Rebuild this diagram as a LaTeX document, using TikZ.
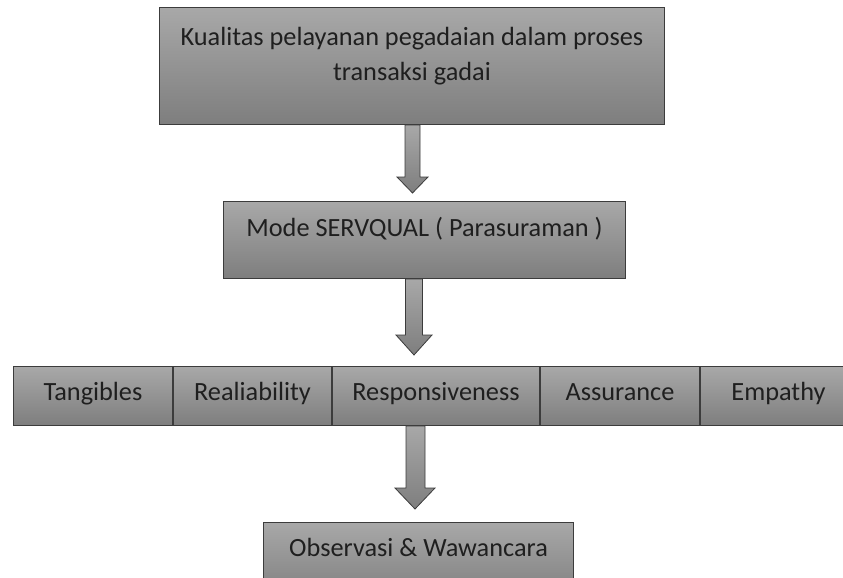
\documentclass[tikz,border=0pt]{standalone}
\usepackage{fontspec}
\setmainfont{Carlito}
\usetikzlibrary{positioning,calc}
\definecolor{abuatas}{RGB}{168,168,168}
\definecolor{abubawah}{RGB}{126,126,126}
\definecolor{garis}{RGB}{60,60,60}
\begin{document}
\begin{tikzpicture}[x=1pt, y=-1pt]
            \tikzset{kotak/.style = {shape=rectangle, draw=garis, line width=1pt, top color=abuatas, bottom color=abubawah, inner sep=0pt, anchor=north west, text=black!88, font=\fontsize{26.3}{35}\selectfont}}
            \tikzset{sel/.style = {kotak, minimum height=59pt, text height=34pt, text depth=25pt}}
            \tikzset{panah/.style = {draw=garis, line width=0.8pt, top color=abuatas, bottom color=abubawah, line join=miter}}

            \useasboundingbox (0,0) rectangle (843,578);

            \node[kotak, minimum width=505pt, text height=73pt, text depth=44pt, align=center] (kualitas) at (159,7) {Kualitas pelayanan pegadaian dalam proses\\transaksi gadai};
            \node[kotak, minimum width=402pt, text height=34.7pt, text depth=42.3pt] (mode) at (223,201) {Mode SERVQUAL ( Parasuraman )};

            \node[sel, minimum width=159pt] (tangibles) at (13,366) {Tangibles};
            \node[sel, minimum width=158pt, right=0pt of tangibles] (reliability) {Realiability};
            \node[sel, minimum width=207pt, right=0pt of reliability] (responsiveness) {Responsiveness};
            \node[sel, minimum width=159pt, right=0pt of responsiveness] (assurance) {Assurance};
            \node[sel, minimum width=156pt, right=0pt of assurance] (empathy) {Empathy};

            \node[kotak, minimum width=310pt, text height=34pt, text depth=43pt] (observasi) at (263,522) {Observasi \& Wawancara};

            \draw[panah] let \p1 = (kualitas.south), \p2 = (mode.north) in
                (405pt,\y1) -- (405pt,\y2+24pt) -- (397pt,\y2+24pt) -- (412.5pt,\y2+8pt)
                -- (428pt,\y2+24pt) -- (420pt,\y2+24pt) -- (420pt,\y1) -- cycle;
            \draw[panah] let \p1 = (mode.south), \p2 = (responsiveness.north) in
                (405.5pt,\y1) -- (405.5pt,\y2+31pt) -- (396pt,\y2+31pt) -- (414pt,\y2+11pt)
                -- (432pt,\y2+31pt) -- (422.5pt,\y2+31pt) -- (422.5pt,\y1) -- cycle;
            \draw[panah] let \p1 = (responsiveness.south), \p2 = (observasi.north) in
                (406pt,\y1) -- (406pt,\y2+34pt) -- (395pt,\y2+34pt) -- (415pt,\y2+13pt)
                -- (435pt,\y2+34pt) -- (425pt,\y2+34pt) -- (425pt,\y1) -- cycle;
        \end{tikzpicture}
\end{document}
